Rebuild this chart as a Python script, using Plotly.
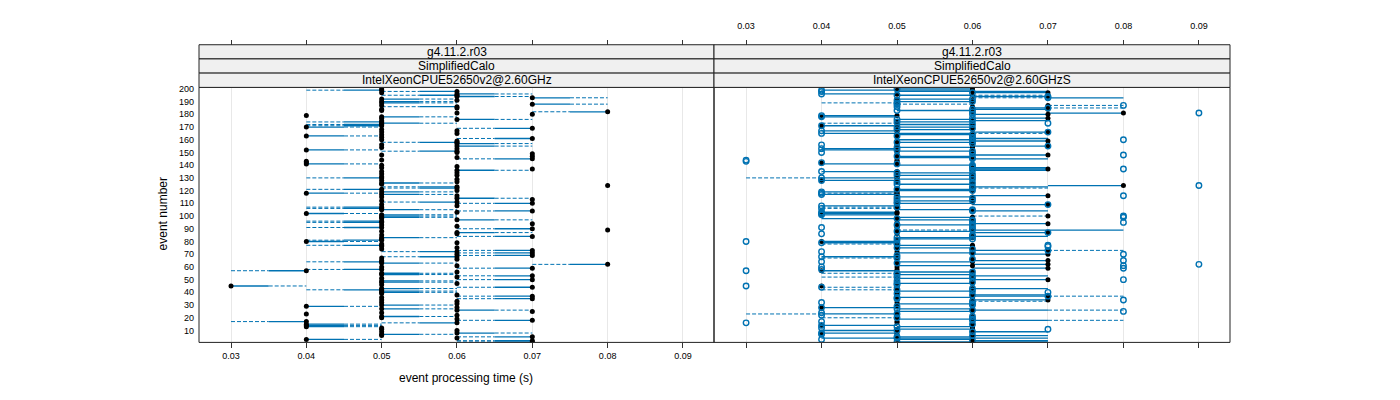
import numpy as np
import plotly.graph_objects as go

# ---------------- data ----------------
event_number = list(range(1, 201))
tick_values = [0.03, 0.04, 0.05, 0.06, 0.07, 0.08, 0.09]
tick_labels = ["0.03", "0.04", "0.05", "0.06", "0.07", "0.08", "0.09"]
y_tick_values = [10, 20, 30, 40, 50, 60, 70, 80, 90, 100, 110, 120, 130, 140, 150, 160, 170, 180, 190, 200]
strip_top = "g4.11.2.r03"
strip_mid = "SimplifiedCalo"
panel_names = ["IntelXeonCPUE52650v2@2.60GHz", "IntelXeonCPUE52650v2@2.60GHzS"]
x_title = "event processing time (s)"
y_title = "event number"

# panel 1: three runs per event (ms): min, median, max
p1_min_ms = [60,60,40,60,60,50,50,60,50,60, 50,50,40,40,40,50,30,60,60,50,
             50,60,40,50,70,60,50,60,40,50, 60,50,60,50,60,50,60,60,50,50,
             50,40,50,60,30,50,60,50,50,60, 50,60,60,50,50,60,30,40,60,50,
             60,70,50,40,50,60,50,50,60,60, 60,50,60,50,60,50,40,50,60,40,
             40,50,50,60,50,60,60,50,80,60, 40,60,50,70,40,40,60,50,50,50,
             50,40,60,60,50,40,40,60,50,60, 50,50,70,60,50,60,50,40,50,60,
             40,50,50,80,50,50,60,50,60,40, 50,60,50,60,50,60,70,50,60,50,
             40,40,40,50,60,60,70,50,70,60, 50,40,60,50,60,50,60,50,60,50,
             60,50,40,50,60,50,60,50,60,40, 40,40,50,40,50,60,50,50,40,70,
             60,70,50,50,60,50,50,70,50,50, 60,50,70,60,50,60,50,50,40,50]
p1_med_ms = [70,70,40,60,70,50,50,60,50,60, 50,50,40,40,40,60,40,70,60,50,
             50,60,40,50,70,60,50,60,40,50, 60,50,60,50,70,50,70,60,50,50,
             50,50,50,70,30,50,60,50,50,70, 50,60,70,50,50,60,40,50,70,50,
             60,80,50,50,50,60,50,60,70,60, 70,60,70,50,60,50,50,50,60,40,
             50,50,50,70,50,60,60,50,80,70, 50,60,50,70,50,50,60,50,50,50,
             50,40,60,70,50,50,50,60,50,70, 60,50,70,60,50,60,50,40,50,60,
             50,60,60,80,50,50,60,50,60,50, 50,60,50,60,50,60,70,50,60,50,
             40,40,40,50,70,60,70,50,70,60, 60,40,60,50,60,50,60,60,60,50,
             70,50,40,50,60,50,60,50,70,40, 50,50,50,50,50,60,50,50,40,70,
             60,80,50,50,60,60,50,70,50,50, 60,50,70,60,60,60,50,60,50,50]
p1_max_ms = [70,70,50,60,70,50,60,70,50,60, 50,50,50,50,50,60,40,70,60,50,
             60,60,40,50,70,70,60,60,50,60, 60,50,60,50,70,50,70,60,50,60,
             60,50,60,70,40,50,60,60,60,70, 50,60,70,60,60,60,40,50,70,50,
             60,80,60,50,50,60,50,60,70,60, 70,60,70,50,60,50,50,50,60,50,
             50,50,60,70,50,60,70,50,80,70, 50,60,50,70,50,50,70,50,60,60,
             60,50,60,70,60,50,50,60,50,70, 60,50,70,70,50,60,60,50,60,60,
             50,60,60,80,50,60,60,50,60,50, 50,60,50,60,50,70,70,50,60,50,
             50,40,40,50,70,60,70,50,70,60, 60,50,60,50,70,50,70,60,60,50,
             70,50,50,50,60,50,60,50,70,50, 50,50,60,50,50,70,50,60,40,70,
             60,80,50,50,60,60,50,80,60,60, 60,60,80,70,60,70,50,60,50,50]

# panel 2: whisker low, lower quartile, median, upper quartile, whisker high, single run (ms)
p2_lo_ms = [50,60,50,40,50,60,50,40,60,40, 50,60,50,40,60,50,50,60,50,40,
            60,50,30,50,50,60,50,40,50,60, 50,50,60,60,50,50,60,60,50,60,
            50,40,60,40,40,50,50,60,50,60, 50,40,60,50,40,50,40,50,60,50,
            50,60,50,50,60,60,40,40,50,60, 50,50,60,60,50,60,50,40,40,40,
            50,50,50,60,60,50,60,50,50,60, 50,50,50,60,50,60,50,40,50,60,
            40,40,40,60,50,40,40,40,60,50, 60,50,50,60,50,60,40,40,40,50,
            50,60,60,70,50,60,50,40,50,30, 50,50,60,50,40,60,60,60,60,50,
            40,40,50,50,60,50,50,60,60,50, 50,40,40,50,60,50,60,50,60,50,
            60,60,50,50,40,60,40,50,60,50, 40,50,40,50,60,50,60,40,40,60,
            70,60,50,60,60,60,70,50,40,50, 60,50,60,60,50,40,60,50,40,50]
p2_q1_ms = [50,60,50,40,50,60,50,40,60,40, 50,60,50,40,60,50,50,60,50,50,
            60,50,40,50,50,60,50,40,50,60, 50,50,60,60,50,50,60,60,50,60,
            50,50,60,50,40,50,50,60,50,60, 50,50,60,50,50,50,40,50,60,50,
            50,60,50,50,60,60,50,40,50,60, 50,50,60,60,50,60,50,50,40,40,
            50,50,50,60,60,50,60,50,60,60, 50,50,50,60,50,60,50,40,50,70,
            40,40,40,60,50,50,50,40,60,50, 60,50,50,60,50,60,40,50,40,50,
            50,60,60,70,50,60,50,40,50,40, 50,50,60,50,40,60,60,60,60,50,
            40,40,50,50,60,50,50,60,60,50, 50,40,40,50,60,50,60,50,60,50,
            60,60,50,50,40,60,40,50,60,50, 40,50,50,50,60,50,60,40,40,60,
            70,60,50,60,60,60,70,50,50,50, 60,50,70,60,50,40,60,50,40,50]
p2_med_ms = [60,60,50,50,60,60,50,40,60,50, 50,60,60,40,60,50,50,60,60,50,
             60,50,50,50,60,60,60,40,50,60, 60,50,60,70,50,60,70,60,50,60,
             60,50,60,50,40,50,60,60,50,70, 60,50,60,60,50,60,40,50,70,50,
             60,70,50,60,70,60,50,50,50,70, 60,50,70,60,50,60,60,50,50,40,
             50,50,60,60,60,50,70,50,60,60, 50,50,60,70,50,60,60,50,60,70,
             40,50,50,60,60,50,50,50,70,50, 60,60,50,60,60,70,50,50,50,60,
             50,60,60,80,60,60,50,40,60,50, 50,60,60,50,50,60,70,60,60,60,
             50,40,50,50,60,60,50,70,60,50, 60,50,50,60,70,50,60,50,70,60,
             60,60,50,60,50,70,50,60,60,50, 40,60,50,50,60,60,70,40,50,70,
             80,60,60,70,70,60,70,50,50,60, 60,50,70,70,60,50,70,60,50,60]
p2_q3_ms = [70,70,60,70,60,70,50,50,70,50, 60,60,60,50,60,50,50,70,60,50,
            60,50,50,50,60,70,60,50,50,60, 60,50,60,70,50,60,70,70,50,60,
            60,50,70,50,40,50,60,60,50,70, 60,50,70,60,50,60,50,50,70,50,
            60,70,50,60,70,60,50,50,50,70, 60,50,70,60,60,60,60,50,50,50,
            50,60,60,70,60,50,70,60,80,60, 50,50,60,70,50,60,60,50,60,70,
            50,50,50,70,60,50,50,50,70,60, 60,60,50,60,60,70,50,50,50,60,
            60,60,70,80,60,60,50,50,60,50, 50,60,60,60,50,70,70,70,60,60,
            50,40,50,50,70,60,60,70,60,50, 60,50,50,60,70,50,60,60,70,60,
            70,60,50,60,60,70,50,60,60,60, 50,60,50,60,70,60,70,50,50,70,
            80,60,60,70,70,60,70,50,50,60, 60,60,80,70,60,50,70,70,60,60]
p2_hi_ms = [70,70,60,70,60,70,50,50,70,50, 60,60,60,50,60,50,50,80,60,50,
            60,50,50,50,60,80,60,50,50,60, 60,50,70,70,50,60,80,70,50,60,
            60,50,70,50,40,50,60,60,50,70, 60,50,70,60,50,60,50,50,70,50,
            60,70,50,60,70,60,50,50,50,70, 60,50,80,60,60,60,60,50,50,50,
            50,60,60,70,60,50,70,60,80,60, 50,50,60,70,50,60,60,50,60,70,
            50,50,50,70,60,50,50,50,70,60, 60,60,50,60,60,70,50,50,50,60,
            60,70,70,80,60,60,50,50,60,50, 50,60,60,60,50,70,70,70,60,60,
            50,40,50,50,70,60,60,70,60,50, 60,50,50,60,70,50,60,60,70,60,
            70,60,50,60,70,70,50,60,60,60, 50,60,50,60,70,60,70,50,50,70,
            80,60,60,70,80,60,80,60,50,60, 60,60,80,70,70,50,70,70,60,60]
p2_run_ms = [50,60,40,50,50,60,40,40,60,50, 70,40,50,40,60,30,40,60,60,50,
             60,40,50,40,80,60,50,40,50,60, 60,40,60,80,50,50,70,60,50,70,
             60,50,60,40,30,50,50,60,50,80, 60,50,60,50,50,60,30,40,80,40,
             80,90,50,40,80,60,50,40,50,80, 60,40,70,60,50,70,70,50,40,30,
             50,60,50,60,60,40,70,50,60,60, 40,60,50,60,80,60,60,50,80,80,
             40,40,40,60,60,40,50,40,70,50, 50,60,50,60,50,80,40,40,40,60,
             50,60,60,90,50,60,50,40,60,40, 60,50,60,50,40,60,80,60,60,60,
             50,40,30,30,60,60,50,80,60,40, 60,50,40,50,70,40,60,50,60,80,
             60,60,50,60,40,70,40,50,60,50, 40,60,70,50,60,50,60,40,40,60,
             90,60,50,60,70,50,80,50,50,60, 50,60,70,70,50,40,60,40,40,50]

# ---------------- derived statistics ----------------
ev = np.array(event_number, dtype=float)
runs1 = np.array([p1_min_ms, p1_med_ms, p1_max_ms], dtype=float) / 1000.0
p1_lo = runs1.min(axis=0)
p1_q1 = np.quantile(runs1, 0.25, axis=0)
p1_med = np.quantile(runs1, 0.5, axis=0)
p1_q3 = np.quantile(runs1, 0.75, axis=0)
p1_hi = runs1.max(axis=0)

p2_lo = np.array(p2_lo_ms) / 1000.0
p2_q1 = np.array(p2_q1_ms) / 1000.0
p2_med = np.array(p2_med_ms) / 1000.0
p2_q3 = np.array(p2_q3_ms) / 1000.0
p2_hi = np.array(p2_hi_ms) / 1000.0
p2_run = np.array(p2_run_ms) / 1000.0


def segments(a, b):
    xs, ys = [], []
    for e, x0, x1 in zip(ev, a, b):
        if abs(x1 - x0) > 1e-9:
            xs += [float(x0), float(x1), None]
            ys += [float(e), float(e), None]
    return xs, ys


# ---------------- geometry (pixels of the 1400x400 page; body has an 8px margin) ----------------
PAGE_OFF = 8
W, H = 1384, 384
FONT = "Liberation Sans, Arial, Helvetica, sans-serif"
BLUE = "#0072B2"
panel_px = [(199, 714), (714, 1230)]
plot_top, plot_bot = 85, 342
strip_rows = [(42, 56.3), (56.3, 70.6), (70.6, 85)]
x_range = [0.02575, 0.09412]
y_range = [0.64, 201.17]


def fx(p):
    return (p - PAGE_OFF) / W


def fy(p):
    return 1 - (p - PAGE_OFF) / H


fig = go.Figure()

panels = [
    ("x", p1_lo, p1_q1, p1_med, p1_q3, p1_hi, None),
    ("x2", p2_lo, p2_q1, p2_med, p2_q3, p2_hi, p2_run),
]
for xa, lo, q1, med, q3, hi, run in panels:
    for a, b in ((lo, q1), (q3, hi)):
        sx, sy = segments(a, b)
        fig.add_trace(go.Scatter(x=sx, y=sy, xaxis=xa, yaxis="y", mode="lines",
                                 line=dict(color=BLUE, width=1, dash="4px,2px"),
                                 hoverinfo="skip", showlegend=False))
    sx, sy = segments(q1, q3)
    fig.add_trace(go.Scatter(x=sx, y=sy, xaxis=xa, yaxis="y", mode="lines",
                             line=dict(color=BLUE, width=1.3),
                             hoverinfo="skip", showlegend=False))
    fig.add_trace(go.Scatter(x=med, y=ev, xaxis=xa, yaxis="y", mode="markers",
                             marker=dict(color="black", size=5, line=dict(width=0)),
                             showlegend=False))
    if run is not None:
        fig.add_trace(go.Scatter(x=run, y=ev, xaxis=xa, yaxis="y", mode="markers",
                                 marker=dict(symbol="circle-open", color=BLUE, size=5.5,
                                             line=dict(width=1.4, color=BLUE)),
                                 showlegend=False))

# invisible anchors for the top (free) axes
for xa in ("x3", "x4"):
    fig.add_trace(go.Scatter(x=[tick_values[0]], y=[event_number[0]], xaxis=xa, yaxis="y",
                             mode="markers", marker=dict(opacity=0), hoverinfo="skip",
                             showlegend=False))

common_x = dict(range=x_range, tickvals=tick_values, ticktext=tick_labels,
                ticks="outside", ticklen=5, tickwidth=1, tickcolor="#333333",
                tickfont=dict(size=9, color="black", family=FONT),
                showline=False, zeroline=False, fixedrange=True)
fig.update_layout(
    width=W, height=H,
    margin=dict(l=0, r=0, t=0, b=0),
    paper_bgcolor="white", plot_bgcolor="rgba(0,0,0,0)",
    font=dict(family=FONT, color="black"),
    xaxis=dict(domain=[fx(panel_px[0][0]), fx(panel_px[0][1])], anchor="y",
               showgrid=True, gridcolor="#e8e8e8", gridwidth=1, **common_x),
    xaxis2=dict(domain=[fx(panel_px[1][0]), fx(panel_px[1][1])], anchor="y",
                showgrid=True, gridcolor="#e8e8e8", gridwidth=1,
                showticklabels=False, **common_x),
    xaxis3=dict(domain=[fx(panel_px[0][0]), fx(panel_px[0][1])], anchor="free",
                overlaying="x", position=fy(strip_rows[0][0]), side="top", showgrid=False,
                showticklabels=False, **common_x),
    xaxis4=dict(domain=[fx(panel_px[1][0]), fx(panel_px[1][1])], anchor="free",
                overlaying="x2", position=fy(strip_rows[0][0]), side="top", showgrid=False,
                showticklabels=True, ticklabelstandoff=7, **common_x),
    yaxis=dict(domain=[fy(plot_bot), fy(plot_top)], range=y_range,
               tickvals=y_tick_values, ticks="", showgrid=False, zeroline=False,
               showline=False, ticklabelstandoff=4,
               tickfont=dict(size=9, color="black", family=FONT),
               fixedrange=True),
)

shapes = []
annotations = []
for i, (x0, x1) in enumerate(panel_px):
    shapes.append(dict(type="rect", xref="paper", yref="paper",
                       x0=fx(x0), x1=fx(x1), y0=fy(plot_bot), y1=fy(plot_top),
                       line=dict(color="#222222", width=1), fillcolor="rgba(0,0,0,0)",
                       layer="above"))
    texts = [strip_top, strip_mid, panel_names[i]]
    for (r0, r1), txt in zip(strip_rows, texts):
        shapes.append(dict(type="rect", xref="paper", yref="paper",
                           x0=fx(x0), x1=fx(x1), y0=fy(r1), y1=fy(r0),
                           line=dict(color="#222222", width=1), fillcolor="#f0f0f0",
                           layer="above"))
        annotations.append(dict(xref="paper", yref="paper", x=fx((x0 + x1) / 2),
                                y=fy((r0 + r1) / 2), text=txt, showarrow=False,
                                xanchor="center", yanchor="middle",
                                font=dict(size=12, color="black", family=FONT)))

annotations.append(dict(xref="paper", yref="paper", x=fx(466), y=fy(378), text=x_title,
                        showarrow=False, xanchor="center", yanchor="middle",
                        font=dict(size=12, color="black", family=FONT)))
annotations.append(dict(xref="paper", yref="paper", x=fx(163), y=fy(213), text=y_title,
                        showarrow=False, xanchor="center", yanchor="middle", textangle=-90,
                        font=dict(size=12, color="black", family=FONT)))
fig.update_layout(shapes=shapes, annotations=annotations)

fig.write_html("out.html")
